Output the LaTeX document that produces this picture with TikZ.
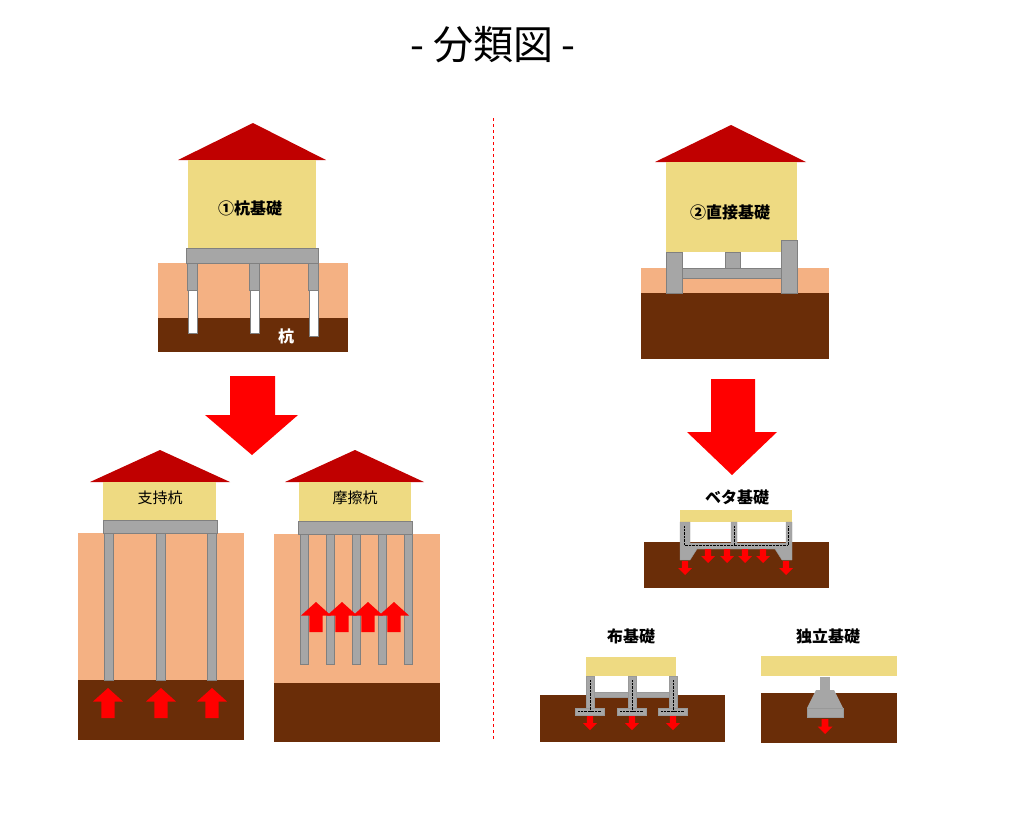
\documentclass[tikz,border=0pt]{standalone}
\usepackage{fontspec}
\setmainfont{Noto Sans CJK JP}
\definecolor{roofred}{RGB}{192,0,0}
\definecolor{wall}{RGB}{238,218,130}
\definecolor{soil}{RGB}{244,177,131}
\definecolor{clay}{RGB}{106,45,8}
\definecolor{conc}{RGB}{166,166,166}
\definecolor{arrred}{RGB}{255,0,0}
\newcommand\uparr[3]{\fill[arrred,shift={(#1,#2)},scale=#3] (0,0) -- (0.5,0.45) -- (0.22,0.45) -- (0.22,1) -- (-0.22,1) -- (-0.22,0.45) -- (-0.5,0.45) -- cycle;}
\newcommand\dnarr[3]{\fill[arrred,shift={(#1,#2)},scale=#3] (0,0) -- (0.5,-0.5) -- (0.22,-0.5) -- (0.22,-1) -- (-0.22,-1) -- (-0.22,-0.5) -- (-0.5,-0.5) -- cycle;}
\begin{document}
\begin{tikzpicture}[x=1pt,y=-1pt]
\useasboundingbox (0,0) rectangle (1024,822);

\node (title) at (493,45) {\fontsize{40}{44}\selectfont - 分類図 -};
\draw [arrred, dashed, thick] (493,118) -- (493,740);

% pile foundation
\fill[roofred] (178,160) -- (253,123) -- (326,160) -- cycle;
\fill[wall] (188,160) rectangle (316,248);
\node (pile) at (250,208) {\fontsize{16}{18}\selectfont\bfseries ①杭基礎};
\fill[soil] (158,263) rectangle (348,318);
\fill[clay] (158,318) rectangle (348,352);
\filldraw[fill=conc, draw=gray] (186,248) rectangle (318,263);
\foreach \x/\b in {187/333, 249/333, 308/336} {
  \filldraw[fill=conc, draw=gray] (\x,263) rectangle (\x+10,290);
  \filldraw[fill=white, draw=gray] (\x+1,290) rectangle (\x+10,\b);
}
\node [white] (kui) at (286,336) {\fontsize{16}{18}\selectfont\bfseries 杭};

\fill[arrred] (230,376) -- (275,376) -- (275,415) -- (298,415) -- (252,455) -- (205,415) -- (230,415) -- cycle;

% end bearing
\fill[roofred] (90,482) -- (160,450) -- (230,482) -- cycle;
\fill[wall] (103,482) rectangle (216,520);
\node (shiji) at (160,498) {\fontsize{15}{18}\selectfont 支持杭};
\fill[soil] (78,533) rectangle (244,680);
\fill[clay] (78,680) rectangle (244,740);
\filldraw[fill=conc, draw=gray] (103,520) rectangle (217,533);
\foreach \x in {104,156,207} \filldraw[fill=conc, draw=gray] (\x,533) rectangle (\x+9,680);
\foreach \x in {108,161,212} {\uparr{\x}{688}{30}}

% friction
\fill[roofred] (285,482) -- (355,450) -- (424,482) -- cycle;
\fill[wall] (299,482) rectangle (411,521);
\node (masatsu) at (355,498) {\fontsize{15}{18}\selectfont 摩擦杭};
\fill[soil] (274,534) rectangle (440,683);
\fill[clay] (274,683) rectangle (440,742);
\filldraw[fill=conc, draw=gray] (298,521) rectangle (412,534);
\foreach \x in {300,326,352,378,404} \filldraw[fill=conc, draw=gray] (\x,534) rectangle (\x+8,664);
\foreach \x in {316,342,368,394} {\uparr{\x}{602}{30}}

% direct foundation
\fill[roofred] (655,162) -- (731,125) -- (806,162) -- cycle;
\fill[wall] (666,162) rectangle (797,252);
\node (direct) at (730,212) {\fontsize{16}{18}\selectfont\bfseries ②直接基礎};
\fill[soil] (641,268) rectangle (829,293);
\fill[clay] (641,293) rectangle (829,359);
\filldraw[fill=conc, draw=gray] (682,268) rectangle (781,278);
\filldraw[fill=conc, draw=gray] (725,252) rectangle (740,268);
\filldraw[fill=conc, draw=gray] (666,252) rectangle (682,293);
\filldraw[fill=conc, draw=gray] (781,240) rectangle (797,293);

\fill[arrred] (711,379) -- (755,379) -- (755,432) -- (777,432) -- (732,475) -- (687,432) -- (711,432) -- cycle;

% mat
\node (mat) at (737,497) {\fontsize{16}{18}\selectfont\bfseries ベタ基礎};
\fill[clay] (644,542) rectangle (829,588);
\fill[wall] (680,510) rectangle (792,522);
\filldraw[fill=conc, draw=gray!80] (680,522) -- (690,522) -- (690,543) -- (731,543) -- (731,522) -- (737,522) -- (737,543) -- (786,543) -- (786,522) -- (792,522) -- (792,560) -- (782,560) -- (775,549) -- (697,549) -- (690,560) -- (680,560) -- cycle;
\draw [densely dotted] (684,526) -- (684,545) -- (788,545) -- (788,526) (734,526) -- (734,545);
\foreach \x in {685,786} {\dnarr{\x}{575}{14}}
\foreach \x in {708,727,745,763} {\dnarr{\x}{563}{14}}

% strip
\node (strip) at (631,636) {\fontsize{16}{18}\selectfont\bfseries 布基礎};
\fill[clay] (540,695) rectangle (725,742);
\fill[wall] (586,657) rectangle (676,676);
\filldraw[fill=conc, draw=gray!80] (594,692) rectangle (669,697);
\foreach \x in {586,628,669} {
  \filldraw[fill=conc, draw=gray!80] (\x,676) rectangle (\x+8,708);
  \filldraw[fill=conc, draw=gray!80] (\x-11,708) rectangle (\x+18,715);
  \draw [densely dotted] (\x+4,680) -- (\x+4,711) (\x-8,711) -- (\x+15,711);
  \dnarr{\x+4}{730}{14}
}

% isolated
\node (isolated) at (828,636) {\fontsize{16}{18}\selectfont\bfseries 独立基礎};
\fill[clay] (761,693) rectangle (897,743);
\fill[wall] (761,656) rectangle (897,676);
\fill[conc] (820,677) rectangle (830,690);
\fill[conc] (816,690) -- (834,690) -- (843,708) -- (807,708) -- cycle;
\filldraw[fill=conc, draw=gray!80] (807,708) rectangle (843,717);
\dnarr{825}{734}{15}

\end{tikzpicture}
\end{document}
